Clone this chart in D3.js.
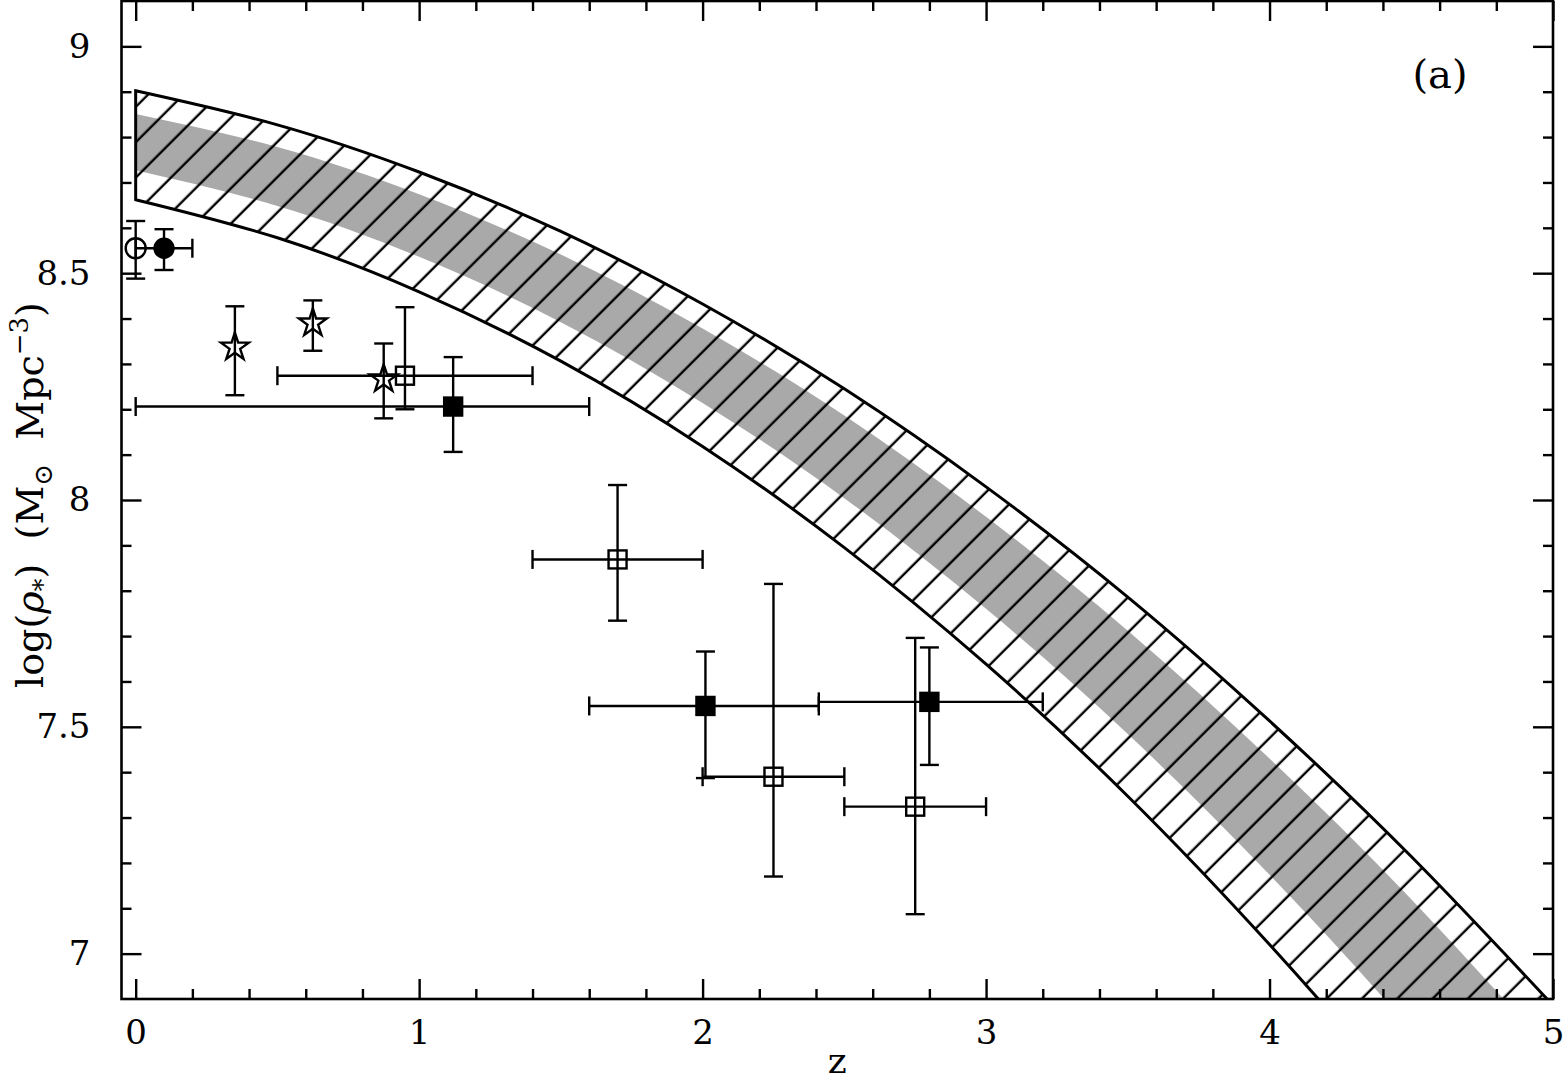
<!DOCTYPE html>
<html>
<head>
<meta charset="utf-8">
<script src="https://cdn.jsdelivr.net/npm/d3@7"></script>
<style>
  body { margin: 0; background: #fff; }
  text { font-family: "DejaVu Serif", serif; fill: #000; }
</style>
</head>
<body>
<svg width="1563" height="1082"></svg>
<script>
// model band (hatched) and inner grey band, sampled along z
const bandZ  = [0, 0.5, 1, 1.5, 2, 2.5, 3, 3.5, 4, 4.5, 5];
const bandHi = [8.902, 8.827, 8.723, 8.592, 8.432, 8.245, 8.029, 7.786, 7.513, 7.214, 6.886];
const bandLo = [8.662, 8.578, 8.459, 8.306, 8.118, 7.895, 7.638, 7.347, 7.020, 6.660, 6.265];
const greyHi = [8.851, 8.778, 8.674, 8.541, 8.378, 8.186, 7.963, 7.712, 7.430, 7.120, 6.779];
const greyLo = [8.727, 8.648, 8.536, 8.392, 8.214, 8.004, 7.760, 7.484, 7.174, 6.832, 6.455];

// open circle
const ocZ = [0], ocV = [8.555], ocVlo = [8.488], ocVhi = [8.615];
// filled circle
const fcZ = [0.1], fcV = [8.555], fcZlo = [0], fcZhi = [0.2], fcVlo = [8.507], fcVhi = [8.597];
// stars
const stZ = [0.35, 0.625, 0.875];
const stV = [8.337, 8.39, 8.267];
const stVlo = [8.231, 8.329, 8.18];
const stVhi = [8.427, 8.44, 8.345];
// open squares
const osZ = [0.95, 1.7, 2.25, 2.75];
const osV = [8.274, 7.869, 7.39, 7.324];
const osZlo = [0.5, 1.4, 2.0, 2.5];
const osZhi = [1.4, 2.0, 2.5, 3.0];
const osVlo = [8.2, 7.734, 7.17, 7.087];
const osVhi = [8.425, 8.033, 7.815, 7.696];
// filled squares
const fsZ = [1.12, 2.01, 2.8];
const fsV = [8.206, 7.546, 7.555];
const fsZlo = [0, 1.6, 2.41];
const fsZhi = [1.6, 2.41, 3.2];
const fsVlo = [8.106, 7.387, 7.416];
const fsVhi = [8.315, 7.666, 7.675];

const xMajor = [0, 1, 2, 3, 4, 5];
const yMajor = [7, 7.5, 8, 8.5, 9];
const yLabels = ["7", "7.5", "8", "8.5", "9"];

const L = 121.5, R = 1553, T = 1, B = 999;
const x = d3.scaleLinear().domain([-0.05, 5]).range([L, R]);
const y = d3.scaleLinear().domain([6.9, 9.1]).range([B, T]);

const svg = d3.select("svg");
const defs = svg.append("defs");

defs.append("clipPath").attr("id", "plot")
  .append("rect").attr("x", L).attr("y", T).attr("width", R - L).attr("height", B - T);

const band = bandZ.map((z, i) => ({ z: z, hi: bandHi[i], lo: bandLo[i] }));
const grey = bandZ.map((z, i) => ({ z: z, hi: greyHi[i], lo: greyLo[i] }));

const area = d3.area()
  .x(d => x(d.z)).y0(d => y(d.lo)).y1(d => y(d.hi))
  .curve(d3.curveNatural);

defs.append("clipPath").attr("id", "band")
  .append("path").attr("d", area(band));

// hatch pattern: 45 degree lines
const pat = defs.append("pattern").attr("id", "hatch")
  .attr("patternUnits", "userSpaceOnUse")
  .attr("width", 24.96).attr("height", 24.96)
  .attr("patternTransform", "rotate(45)");
pat.append("line").attr("x1", 21.85).attr("x2", 21.85).attr("y1", -1).attr("y2", 26)
  .attr("stroke", "#000").attr("stroke-width", 2.4);

const g = svg.append("g").attr("clip-path", "url(#plot)");

g.append("path").attr("d", area(grey)).attr("fill", "#a9a9a9");
g.append("g").attr("clip-path", "url(#band)")
  .append("path").attr("d", area(band)).attr("fill", "url(#hatch)");
g.append("path").attr("d", area(band))
  .attr("fill", "none").attr("stroke", "#000").attr("stroke-width", 3);

// axes
function ax(gen, tr, vals, size, fmt, pad) {
  const a = gen.tickValues(vals).tickSizeInner(-size).tickSizeOuter(0).tickPadding(pad || 0)
    .tickFormat(fmt || (() => ""));
  const s = svg.append("g").attr("transform", tr).call(a);
  s.select(".domain").remove();
  s.selectAll("line").attr("stroke", "#000").attr("stroke-width", 2.4);
  s.selectAll("text").attr("font-family", "DejaVu Serif").attr("font-size", 34);
  return s;
}
const xMinor = d3.range(0.2, 5, 0.2).filter(v => Math.abs(v - Math.round(v)) > 0.01);
const yMinor = d3.range(7.1, 9.1, 0.1).filter(v => Math.abs(v * 2 - Math.round(v * 2)) > 0.01);

ax(d3.axisBottom(x), `translate(0,${B})`, xMajor, 20, d => String(d), 21);
ax(d3.axisBottom(x), `translate(0,${B})`, xMinor, 10);
ax(d3.axisTop(x), `translate(0,${T})`, xMajor, 20);
ax(d3.axisTop(x), `translate(0,${T})`, xMinor, 10);
ax(d3.axisLeft(y), `translate(${L},0)`, yMajor, 20, (d, i) => yLabels[i], 31);
ax(d3.axisLeft(y), `translate(${L},0)`, yMinor, 10);
ax(d3.axisRight(y), `translate(${R},0)`, yMajor, 20);
ax(d3.axisRight(y), `translate(${R},0)`, yMinor, 10);

svg.append("rect").attr("x", L).attr("y", T).attr("width", R - L).attr("height", B - T)
  .attr("fill", "none").attr("stroke", "#000").attr("stroke-width", 2.6);

// error bars
const eb = svg.append("g").attr("stroke", "#000").attr("stroke-width", 2.4).attr("fill", "none");
const cap = 9.5;
function vErr(zs, lo, hi) {
  zs.forEach((z, i) => {
    const px = x(z);
    eb.append("line").attr("x1", px).attr("x2", px).attr("y1", y(lo[i])).attr("y2", y(hi[i]));
    [lo[i], hi[i]].forEach(v => eb.append("line")
      .attr("x1", px - cap).attr("x2", px + cap).attr("y1", y(v)).attr("y2", y(v)));
  });
}
function hErr(vs, lo, hi) {
  vs.forEach((v, i) => {
    const py = y(v);
    eb.append("line").attr("x1", x(lo[i])).attr("x2", x(hi[i])).attr("y1", py).attr("y2", py);
    [lo[i], hi[i]].forEach(z => eb.append("line")
      .attr("x1", x(z)).attr("x2", x(z)).attr("y1", py - cap).attr("y2", py + cap));
  });
}
vErr(ocZ, ocVlo, ocVhi);
vErr(fcZ, fcVlo, fcVhi); hErr(fcV, fcZlo, fcZhi);
vErr(stZ, stVlo, stVhi);
vErr(osZ, osVlo, osVhi); hErr(osV, osZlo, osZhi);
vErr(fsZ, fsVlo, fsVhi); hErr(fsV, fsZlo, fsZhi);

// markers
const mk = svg.append("g").attr("stroke", "#000").attr("stroke-width", 2.4);
ocZ.forEach((z, i) => mk.append("circle").attr("cx", x(z)).attr("cy", y(ocV[i])).attr("r", 10).attr("fill", "none"));
fcZ.forEach((z, i) => mk.append("circle").attr("cx", x(z)).attr("cy", y(fcV[i])).attr("r", 9.5).attr("fill", "#000"));
const star = d3.symbol().type(d3.symbolStar).size(240);
stZ.forEach((z, i) => mk.append("path").attr("d", star())
  .attr("transform", `translate(${x(z)},${y(stV[i])})`).attr("fill", "none"));
osZ.forEach((z, i) => mk.append("rect").attr("x", x(z) - 9).attr("y", y(osV[i]) - 9)
  .attr("width", 18).attr("height", 18).attr("fill", "none"));
fsZ.forEach((z, i) => mk.append("rect").attr("x", x(z) - 9).attr("y", y(fsV[i]) - 9)
  .attr("width", 18).attr("height", 18).attr("fill", "#000"));

// labels
svg.append("text").attr("x", (L + R) / 2).attr("y", 1073).attr("text-anchor", "middle")
  .attr("font-size", 36).text("z");
svg.append("text").attr("x", 1440).attr("y", 88).attr("text-anchor", "middle")
  .attr("font-size", 40).text("(a)");

const yt = svg.append("text").attr("transform", "translate(43,495) rotate(-90)")
  .attr("text-anchor", "middle").attr("font-size", 38);
yt.append("tspan").text("log(");
yt.append("tspan").attr("font-style", "italic").text("ρ");
yt.append("tspan").attr("font-size", 26).attr("dy", 9).text("*");
yt.append("tspan").attr("dy", -9).text(")\u00a0\u00a0(M");
yt.append("tspan").attr("font-size", 26).attr("dy", 9).text("\u2299");
yt.append("tspan").attr("dy", -9).text("\u00a0\u00a0Mpc");
yt.append("tspan").attr("font-size", 26).attr("dy", -15).text("\u22123");
yt.append("tspan").attr("dy", 15).text(")");
</script>
</body>
</html>
